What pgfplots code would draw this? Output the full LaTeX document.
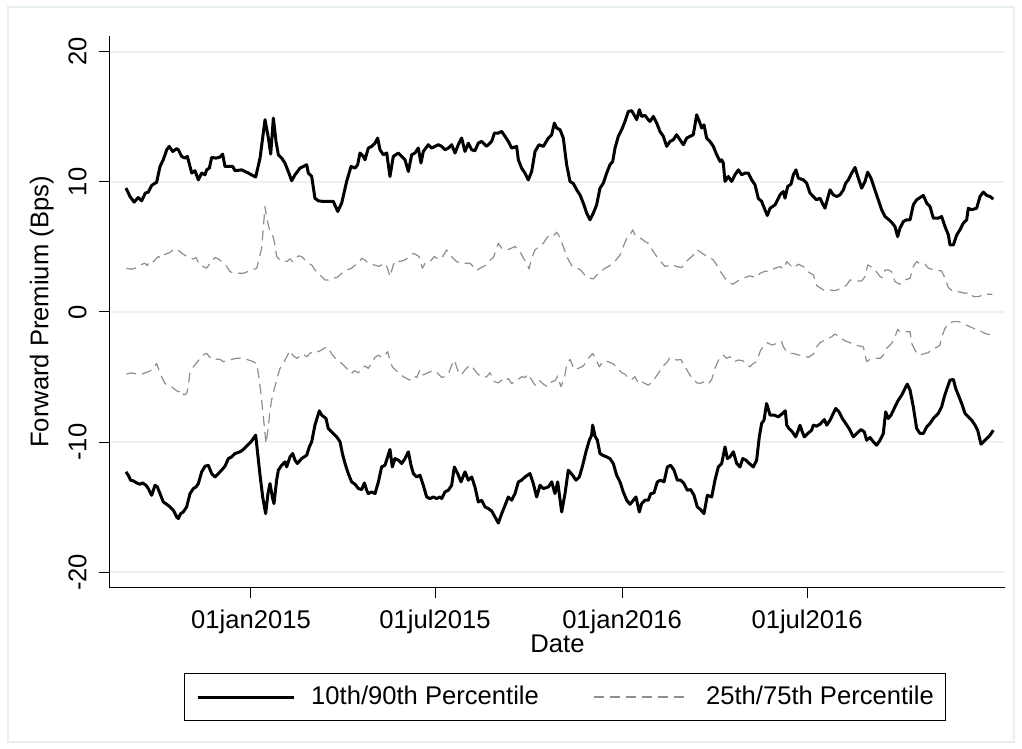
\documentclass[border=0pt]{standalone}
\usepackage{fontspec}
\setmainfont{Liberation Sans}
\usepackage{pgfplots}
\pgfplotsset{compat=1.18}
\definecolor{gridc}{HTML}{EAF2F3}
\definecolor{framec}{HTML}{E6EEF0}
\definecolor{dashc}{HTML}{8E8E8E}
\newcommand{\chartfont}{\fontsize{12.8}{15}\selectfont}
\begin{document}
\begin{tikzpicture}
\useasboundingbox (0,0) rectangle (511pt,374.5pt);
\draw[framec, line width=0.75pt] (4pt,3.5pt) rectangle (507pt,371pt);
\begin{axis}[
  at={(55pt,80.5pt)}, anchor=south west,
  scale only axis, width=447.5pt, height=276pt,
  xmin=-138.7, xmax=741.7, ymin=-21.2, ymax=21.2,
  axis x line*=bottom, axis y line*=left,
  axis line style={line width=0.5pt, black},
  xtick={0,181,365,547}, xticklabels={01jan2015,01jul2015,01jan2016,01jul2016},
  ytick={-20,-10,0,10,20}, yticklabels={-20,-10,0,10,20},
  tick align=outside, major tick length=5.25pt,
  tick style={line width=0.5pt, black},
  ymajorgrids, grid style={gridc, line width=1pt},
  ticklabel style={font=\chartfont},
  xticklabel style={yshift=-2pt},
  yticklabel style={xshift=-6.25pt, rotate=90, anchor=south, inner sep=0pt},
  xlabel={Date}, ylabel={Forward Premium (Bps)},
  label style={font=\chartfont},
  xlabel style={at={(axis description cs:0.5,-0.0851)}, anchor=north, inner sep=0pt},
  ylabel style={at={(axis description cs:-0.0626,0.5)}, anchor=south, inner sep=0pt},
  legend columns=2,
  legend cell align=left,
  legend image code/.code={\draw[#1] (0pt,0pt) -- (48pt,0pt);},
  legend style={at={(axis description cs:0.5084,-0.1975)}, anchor=center,
    draw=black, line width=0.5pt, font=\chartfont, inner xsep=6pt, inner ysep=2pt,
    nodes={inner xsep=0pt, inner ysep=4.5pt},
    /tikz/every odd column/.append style={column sep=8pt},
    /tikz/every even column/.append style={column sep=27pt}},
]
% 90th percentile
\addplot[black, line width=1.5pt, line join=round] coordinates {
(-123,9.52) (-119,8.87) (-115,8.44) (-111,8.79) (-107.5,8.54) (-104,9.13) (-101,9.21) (-97.7,9.72) (-92.8,9.97) (-89.5,11.18)
(-86.3,11.69) (-82.9,12.46) (-80.4,12.72) (-77.1,12.33) (-73.1,12.54) (-71.5,12.46) (-68.2,11.95) (-64.9,11.82) (-62.6,11.95) (-58.3,10.67)
(-55.1,10.85) (-51.8,10.15) (-48.5,10.67) (-45.2,10.54) (-43.6,10.92) (-41,11.05) (-38.7,11.87) (-34.4,11.82) (-30.5,11.9) (-27.9,12.13)
(-25.6,11.18) (-23.3,11.18) (-18,11.18) (-15.7,10.85) (-9.2,10.92) (-2.6,10.67) (4.6,10.36) (8.9,11.82) (13.8,14.77) (17.1,13.36)
(19.4,12.13) (22,14.9) (24.6,13.1) (26.9,12.08) (30.2,11.82) (33.4,11.44) (36.7,10.79) (40,10.08) (43.3,10.54) (48.2,11.05)
(51.5,11.18) (54.8,11.31) (56.4,10.67) (59.7,10.41) (62.9,8.74) (66.2,8.54) (71.1,8.49) (76,8.49) (81,8.49) (85.3,7.72)
(89.2,8.36) (94.1,10.03) (98.4,11.18) (102.3,11.05) (104.9,11.31) (107.2,12.21) (110.5,11.95) (112.1,11.69) (115.4,12.59) (118.7,12.72)
(122,12.97) (124.6,13.36) (126.9,12.46) (130.2,12.08) (133.5,12.21) (136.7,10.41) (140,11.95) (144.9,12.21) (148.2,11.95) (151.5,11.69)
(154.8,10.79) (158.1,12.08) (161.3,12.21) (164.6,12.59) (167.2,11.44) (169.5,12.33) (174.4,12.85) (177.7,12.59) (181,12.72) (184.3,12.85)
(187.6,12.72) (190.8,12.46) (194.1,12.59) (197.4,12.85) (200.7,12.21) (203.9,12.85) (207.2,13.36) (210.5,12.33) (213.8,12.97) (217.1,12.46)
(220.3,12.38) (223.6,12.97) (226.9,13.1) (231.8,12.72) (236.7,13.1) (239.4,13.74) (243.3,13.74) (246.6,13.87) (249.9,13.49) (253.1,13.1)
(256.4,12.59) (261.3,12.72) (263,11.69) (266.2,11.05) (269.5,10.67) (272.8,10.15) (276.1,10.79) (279.4,12.33) (283.3,12.85) (287.6,12.72)
(292.5,13.36) (295.8,13.62) (298.4,14.51) (300.7,14.13) (304,14.0) (307.2,13.36) (310.5,11.31) (313.8,10.02) (317.1,9.87) (320.4,9.38)
(323.6,9.0) (326.9,8.36) (330.2,7.59) (333.5,7.08) (336.7,7.59) (340,8.23) (343.3,9.51) (346.6,9.9) (349.9,10.67) (353.1,11.31)
(355.8,11.56) (358.1,12.59) (361.3,13.49) (364.6,14.0) (367.9,14.64) (371.2,15.41) (374.5,15.46) (377.7,15.02) (379.4,14.77) (382,15.54)
(384.3,15.02) (387.6,15.1) (390.8,14.77) (392.5,14.64) (395.8,15.02) (399.1,14.51) (402.3,13.87) (405.6,13.49) (408.9,12.72) (412.2,13.1)
(415.4,13.23) (418.7,13.62) (422,13.23) (425.3,12.85) (428.6,13.36) (431.8,13.49) (435.1,13.62) (438.4,15.15) (441,14.64) (443.3,14.13)
(445.6,14.38) (448.2,13.36) (451.5,13.1) (454.8,12.72) (458.1,12.08) (461.4,11.56) (463,11.69) (464.6,11.44) (466.3,10.03) (469.5,10.41)
(472.8,10.03) (476.1,10.54) (479.4,10.92) (482.7,10.54) (485.9,10.67) (489.2,10.67) (492.5,10.15) (495.8,9.77) (499,8.74) (502.3,8.49)
(505.6,7.85) (507.9,7.41) (510.6,7.97) (515.5,8.23) (520.4,9.0) (523.6,9.25) (525.3,8.74) (527.9,9.64) (531.2,9.82) (533.5,10.54)
(536.1,10.92) (538.4,10.28) (543.3,10.15) (546.6,9.9) (549.9,9.13) (553.2,8.87) (556.4,8.62) (559.7,8.74) (562,8.36) (564.6,7.97)
(567.3,8.74) (569.6,9.38) (572.8,9.0) (576.1,8.87) (579.4,9.0) (582.7,9.38) (585,9.9) (587.6,10.15) (590.9,10.67) (594.2,11.1)
(597.4,10.28) (600.7,9.51) (604,10.03) (606.6,10.74) (609.9,10.28) (613.2,9.51) (616.5,8.74) (620.4,7.85) (623.7,7.33) (627.6,7.08)
(630.9,6.82) (633.5,6.56) (636.1,5.79) (638.4,6.44) (641.7,6.95) (645,7.08) (648.3,7.08) (651.5,8.23) (654.8,8.62) (658.1,8.79)
(661.4,8.95) (664.7,8.36) (667.9,8.1) (671.2,7.21) (676.1,7.21) (679.4,7.33) (682.7,6.56) (686,5.92) (687.6,5.15) (690.9,5.15)
(694.2,5.92) (697.4,6.31) (700.7,6.82) (704,7.08) (705.6,7.97) (708.9,7.85) (713.8,7.97) (717.1,8.87) (720.4,9.21) (723.7,8.95)
(727,8.87) (730.2,8.67)
};
\addlegendentry{10th/90th Percentile}
% 75th percentile
\addplot[dashc, line width=0.6pt, dash pattern=on 5pt off 3pt, line join=round] coordinates {
(-122.6,3.36) (-117.4,3.28) (-112.4,3.41) (-109.2,3.62) (-104.3,3.74) (-102,3.56) (-99.4,3.92) (-96.7,3.82) (-91.2,4.26) (-87.9,4.13)
(-84.6,4.44) (-81.3,4.51) (-76.4,4.77) (-73.1,4.85) (-69.8,4.64) (-68.2,4.51) (-60,4.13) (-56.7,4.08) (-54.1,4.18) (-50.2,3.56)
(-46.9,3.49) (-43.6,3.36) (-40.3,3.74) (-35.4,4.18) (-32.1,4.08) (-28.9,3.87) (-23.9,3.49) (-20.7,3.1) (-15.7,2.97) (-7.5,2.97)
(-1,3.18) (5.6,3.36) (10.5,4.9) (13.8,8.1) (15.4,7.21) (18.7,6.18) (21.3,5.92) (23.6,5.15) (25.2,4.26) (28.5,4.0)
(31.8,4.0) (35.1,3.87) (38.4,4.08) (41,3.87) (46.6,4.31) (49.8,4.26) (53.1,4.0) (56.4,3.74) (59.7,3.62) (62.9,3.23)
(66.2,2.97) (69.5,2.72) (72.8,2.46) (76,2.46) (79.3,2.59) (84.3,2.64) (89.2,2.97) (94.1,3.23) (99,3.36) (101.7,3.56)
(105.6,3.74) (108.9,4.13) (112.1,4.0) (115.4,3.74) (118.7,3.67) (123.6,3.56) (125.3,3.49) (131.8,3.74) (134.4,3.36) (136.7,2.72)
(140,3.62) (143.3,4.0) (146.6,3.87) (151.5,4.0) (154.8,4.18) (159.7,4.51) (165.3,4.26) (168.5,3.36) (171.8,3.82) (176.1,3.87)
(180.3,4.26) (184.3,4.05) (187.6,4.13) (192.5,4.77) (195.8,4.38) (199,4.13) (202.3,3.87) (207.2,3.74) (215.4,3.74) (218.7,3.49)
(222,3.18) (225.3,3.36) (230.2,3.56) (233.5,3.87) (238.4,4.18) (243.3,5.28) (246.6,4.9) (251.5,4.77) (254.8,4.85) (259.7,5.03)
(264.6,4.64) (267.9,4.13) (271.2,3.74) (273.5,3.31) (276.1,4.13) (279.4,4.77) (283.3,5.03) (287.6,5.28) (290.8,5.67) (294.1,5.92)
(297.4,5.85) (300.7,6.13) (303,5.85) (307.2,5.03) (310.5,4.26) (315.5,3.56) (320.4,3.36) (324.3,3.23) (329.5,2.72) (333.5,2.59)
(336.7,2.54) (341.6,2.97) (345,3.15) (348.2,3.36) (351.5,3.49) (356.4,3.74) (360.4,4.13) (363,4.38) (366.2,5.03) (369.6,5.67)
(372.8,5.92) (375.5,6.31) (377.7,5.92) (381,5.72) (384.3,5.62) (387.6,5.41) (390.8,5.28) (395.8,4.64) (399.1,4.26) (401.7,4.0)
(407.3,3.49) (410.5,3.56) (415.4,3.62) (418.7,3.49) (423.7,3.41) (427.9,3.87) (431.8,4.13) (435.1,4.38) (438.4,4.77) (441.7,4.64)
(444.9,4.44) (449.9,4.26) (454.8,4.0) (458.1,3.62) (460.7,3.23) (463,2.97) (466.3,2.59) (469.5,2.33) (473.8,2.13) (477.8,2.33)
(482.7,2.59) (485.9,2.64) (490.2,2.77) (493.5,2.72) (497.4,2.64) (500.7,2.97) (504.6,3.1) (508.9,3.15) (515.5,3.36) (520.4,3.49)
(523.6,3.31) (526.9,3.87) (530.2,3.62) (533.5,3.36) (538.4,3.67) (543.3,3.49) (546.6,3.15) (553.2,2.85) (556.4,2.03) (564.6,1.62)
(569.6,1.69) (574.5,1.64) (582.7,1.87) (586,2.08) (589.2,2.46) (595.8,2.38) (600.7,2.38) (604,2.72) (606.6,3.62) (609.9,3.49)
(613.2,3.31) (618.8,2.72) (621,2.64) (623.7,3.23) (626.9,3.23) (630.2,3.1) (633.5,2.33) (638.4,2.13) (643.3,2.46) (648.3,2.59)
(651.5,3.49) (654.8,3.87) (659.7,3.62) (663,3.67) (666.3,3.36) (672.8,3.23) (679.4,3.15) (682.7,2.59) (686,1.87) (690.9,1.56)
(695.8,1.56) (702.4,1.44) (707.3,1.49) (710.6,1.18) (715.5,1.18) (722,1.36) (729.2,1.36)
};
\addlegendentry{25th/75th Percentile}
% 25th percentile
\addplot[forget plot, dashc, line width=0.6pt, dash pattern=on 5pt off 3pt, line join=round] coordinates {
(-122.6,-4.77) (-117.4,-4.67) (-112.4,-4.77) (-107.5,-4.77) (-104.3,-4.67) (-101,-4.59) (-97.7,-4.46) (-96.1,-4.33) (-92.8,-3.95) (-91.2,-4.33)
(-87.9,-4.97) (-84.6,-5.49) (-81.3,-5.69) (-78.1,-5.74) (-74.8,-5.95) (-71.5,-6.13) (-68.2,-6.0) (-65.9,-6.38) (-63.3,-6.26) (-61.7,-5.74)
(-60,-4.59) (-56.7,-4.21) (-54.1,-3.95) (-50.8,-3.64) (-47.5,-3.31) (-43.6,-3.18) (-40.3,-3.49) (-37.1,-3.44) (-34.4,-3.62) (-30.5,-3.64)
(-27.2,-3.82) (-23.9,-3.74) (-20.7,-3.69) (-19,-3.64) (-14.1,-3.56) (-9.2,-3.56) (-4.3,-3.64) (0.7,-3.77) (5.6,-3.95) (8.2,-5.23)
(10.5,-6.77) (12.8,-8.56) (14.8,-10.1) (17.1,-8.82) (18.7,-7.54) (20.3,-6.77) (22.6,-6.0) (25.2,-5.23) (28.5,-4.33) (31.8,-3.95)
(35.1,-3.44) (38.4,-2.97) (41,-3.31) (45,-3.56) (48.2,-3.38) (51.5,-3.23) (54.8,-3.44) (58,-3.18) (62,-2.97) (66.2,-3.05)
(70.5,-2.87) (74.4,-2.67) (77,-2.92) (80.3,-3.31) (84.3,-3.69) (87.6,-3.82) (90.8,-4.08) (95.7,-4.46) (99,-4.72) (101.7,-4.51)
(105.6,-4.67) (108.9,-4.33) (112.1,-4.15) (115.4,-4.33) (119.4,-3.82) (122,-3.49) (125.3,-3.31) (128.5,-3.49) (131.8,-3.31) (134.4,-3.05)
(136.7,-3.69) (139,-4.21) (142.3,-4.46) (146.6,-4.77) (149.9,-4.97) (153.1,-5.1) (156.4,-5.23) (159.7,-4.92) (163,-5.03) (166.2,-4.46)
(168.5,-4.85) (172.8,-4.72) (176.1,-4.59) (181,-4.51) (184.3,-4.77) (187.6,-5.03) (190.8,-4.97) (194.1,-4.77) (197.4,-4.08) (200,-3.69)
(203.3,-4.46) (206.6,-4.85) (210.5,-4.46) (215.4,-4.08) (218.7,-4.33) (222,-4.67) (225.3,-4.92) (228.5,-5.03) (231.8,-4.97) (235.1,-4.67)
(239.4,-5.36) (243.3,-5.44) (246.6,-5.23) (249.9,-5.36) (253.1,-5.1) (256.4,-5.49) (259.7,-5.36) (263,-5.18) (266.2,-4.97) (269.5,-5.03)
(272.8,-4.77) (276.1,-5.23) (279.4,-5.62) (283.3,-5.23) (287.6,-5.54) (291.8,-5.74) (295.8,-5.36) (299,-5.28) (301.7,-4.92) (304.9,-5.74)
(308.2,-5.1) (310.5,-4.08) (313.8,-3.64) (315.5,-3.95) (317.7,-4.41) (322,-4.33) (326.9,-4.15) (331.8,-3.56) (336.1,-3.18) (338.4,-3.49)
(342.6,-4.21) (345,-3.95) (347.2,-3.74) (351.5,-3.82) (356.4,-4.0) (360.4,-4.33) (364.6,-4.67) (367.9,-4.77) (371.2,-5.1) (374.5,-5.18)
(377.7,-4.97) (381,-5.49) (384.3,-5.36) (387.6,-5.49) (390.8,-5.62) (395.2,-5.36) (398.4,-4.97) (401.7,-4.59) (405.6,-4.15) (409.6,-3.82)
(412.2,-3.49) (415.4,-3.64) (419.4,-3.69) (422.7,-3.64) (427.9,-4.33) (431.8,-4.85) (435.1,-5.1) (438.4,-5.44) (441.7,-5.49) (445.6,-5.36)
(449.9,-5.54) (453.2,-5.18) (456.4,-4.33) (460.7,-3.56) (464.6,-3.31) (467.9,-3.56) (471.2,-3.44) (475.1,-3.82) (479.4,-3.69) (483.7,-3.74)
(487.6,-4.08) (490.9,-4.21) (494.1,-3.95) (497.4,-3.82) (500.7,-3.05) (504.6,-2.54) (507.9,-2.36) (512.2,-2.54) (517.7,-2.41) (522,-2.28)
(523.6,-2.67) (526.9,-3.05) (530.2,-3.18) (533.5,-3.18) (538.4,-3.31) (543.3,-3.31) (548.2,-3.49) (553.2,-3.23) (556.4,-2.67) (559.7,-2.36)
(564.6,-2.15) (567.9,-2.03) (571.2,-1.9) (574.5,-1.69) (577.7,-1.85) (581,-2.03) (584.3,-2.21) (589.2,-2.36) (594.2,-2.54) (599.1,-2.62)
(602.3,-2.67) (605.6,-3.82) (608.9,-3.64) (613.8,-3.56) (618.8,-3.56) (622,-3.31) (623.7,-2.92) (626.9,-2.67) (630.2,-2.41) (633.5,-1.9)
(636.1,-1.33) (638.4,-1.51) (643.3,-1.51) (648.3,-1.51) (649.9,-2.41) (654.8,-3.18) (658.1,-3.31) (663,-3.18) (666.3,-3.13) (669.6,-2.87)
(674.5,-2.72) (677.8,-2.54) (679.4,-1.9) (682.7,-1.26) (686,-0.87) (690.9,-0.74) (695.8,-0.74) (700.7,-0.87) (705.6,-1.08) (708.9,-1.18)
(713.8,-1.38) (718.8,-1.51) (722,-1.64) (725.3,-1.72) (729.2,-1.77)
};
% 10th percentile
\addplot[forget plot, black, line width=1.5pt, line join=round] coordinates {
(-123,-12.28) (-120.7,-12.54) (-118.4,-12.92) (-115.8,-12.97) (-112.4,-13.13) (-109.2,-13.23) (-106.6,-13.13) (-103.3,-13.31) (-101,-13.56) (-97.7,-14.08)
(-94.4,-13.31) (-92.1,-13.44) (-89.5,-13.95) (-86.3,-14.59) (-82.9,-14.77) (-79.7,-14.97) (-76.4,-15.23) (-73.1,-15.74) (-71.5,-15.87) (-69.2,-15.49)
(-66.6,-15.36) (-63.3,-14.97) (-60,-13.95) (-56.7,-13.56) (-54.1,-13.44) (-51.8,-13.18) (-48.5,-12.28) (-45.2,-11.85) (-42,-11.77) (-38.7,-12.41)
(-35.4,-12.67) (-32.1,-12.41) (-28.9,-12.15) (-25.6,-11.85) (-22.3,-11.26) (-19,-11.13) (-15.7,-10.87) (-10.8,-10.74) (-7.5,-10.56) (-4.3,-10.31)
(0.7,-9.9) (4.6,-9.46) (8.9,-12.54) (11.5,-14.21) (14.4,-15.49) (16.7,-13.95) (18.7,-13.18) (21,-14.21) (22.6,-14.72) (25.2,-12.92)
(26.9,-12.15) (30.2,-11.77) (33.4,-11.51) (35.1,-11.9) (38.4,-11.13) (41,-10.87) (43.3,-11.38) (45.6,-11.64) (49.8,-11.26) (54.8,-11.0)
(57.4,-10.36) (59.7,-9.97) (62.9,-8.69) (67.2,-7.59) (69.5,-7.92) (73.8,-8.18) (76,-8.95) (79.3,-9.21) (84.3,-9.59) (87.6,-9.97)
(89.9,-10.87) (92.5,-11.64) (95.7,-12.41) (99,-13.05) (102.3,-13.23) (105.6,-13.56) (108.9,-13.64) (111.5,-13.13) (113.8,-13.69) (115.4,-13.95)
(118.7,-13.82) (122,-13.95) (125.3,-13.05) (128.5,-11.9) (131.8,-11.77) (134.4,-11.13) (136.7,-10.56) (139,-11.9) (141.6,-11.26) (144.9,-11.38)
(148.2,-11.64) (151.5,-11.26) (154.8,-10.74) (157.4,-11.77) (159.7,-12.41) (163,-12.67) (166.2,-12.54) (169.5,-13.31) (172.8,-14.21) (176.1,-14.33)
(179.4,-14.21) (182.6,-14.33) (185.9,-14.21) (187.6,-14.33) (190.8,-13.82) (194.1,-13.69) (197.4,-13.31) (200,-11.9) (203.3,-12.41) (206.6,-13.05)
(210.5,-12.28) (213.8,-12.92) (217.1,-12.67) (220.3,-13.44) (223.6,-14.59) (226.9,-14.46) (230.2,-14.97) (233.5,-15.1) (236.7,-15.28) (240,-15.74)
(243.3,-16.21) (246.6,-15.49) (249.9,-14.85) (253.1,-14.21) (256.4,-14.46) (259.7,-13.95) (263,-13.05) (266.2,-12.92) (269.5,-12.67) (274.4,-12.41)
(277.7,-13.18) (281,-14.21) (284.3,-13.31) (287.6,-13.56) (292.5,-13.44) (295.8,-13.05) (299,-13.95) (301.7,-13.05) (305.6,-15.36) (308.9,-13.95)
(312.1,-12.15) (316.4,-12.54) (319.7,-12.92) (323,-12.67) (326.3,-11.77) (329.5,-10.74) (332.8,-9.85) (335.1,-9.46) (336.1,-8.69) (338.4,-9.54)
(340.7,-9.85) (343.3,-10.87) (345.9,-11.0) (349.9,-11.13) (353.1,-11.26) (356.4,-11.64) (359.7,-12.54) (363,-13.05) (366.2,-13.82) (369.6,-14.46)
(372.8,-14.77) (376.1,-14.46) (378.7,-14.21) (382,-15.36) (384.3,-14.72) (387.6,-14.46) (390.8,-14.46) (393.2,-13.95) (396.4,-13.9) (399.7,-13.05)
(403,-12.92) (406.3,-13.05) (409.6,-11.9) (412.8,-11.77) (416.1,-12.15) (419.4,-12.92) (422.7,-12.92) (425.9,-13.18) (429.2,-13.69) (432.5,-13.64)
(435.8,-14.08) (439,-14.97) (442.3,-15.18) (445.6,-15.49) (448.9,-14.08) (453.2,-14.21) (456.4,-12.92) (459.7,-11.9) (463,-11.64) (466.3,-10.36)
(468.6,-11.26) (471.2,-11.13) (474.5,-10.74) (477.8,-11.64) (481,-11.9) (483.7,-11.26) (486.9,-11.38) (490.2,-11.64) (494.1,-11.9) (497.4,-11.38)
(500,-9.59) (502.3,-8.56) (504.6,-8.31) (507.2,-7.03) (510.6,-7.92) (514.5,-7.92) (518.7,-8.05) (523,-7.79) (525.6,-7.59) (527,-8.69)
(529.2,-8.95) (532.5,-9.21) (535.8,-9.59) (538.4,-9.08) (540,-8.69) (542.3,-9.21) (544.3,-9.59) (547.6,-9.33) (551.5,-9.08) (553.2,-8.69)
(556.4,-8.77) (559.7,-8.62) (564,-8.26) (566.3,-8.69) (569.6,-8.31) (572.8,-7.79) (575.2,-7.41) (578.4,-7.67) (581.7,-8.18) (585,-8.56)
(588.3,-8.95) (592.5,-9.59) (595.8,-9.33) (600.1,-9.03) (603.3,-9.21) (605.6,-9.85) (608.9,-9.64) (612.2,-9.97) (615.5,-10.23) (618.8,-9.85)
(622,-9.33) (624.3,-7.67) (626.9,-8.18) (629.6,-7.92) (633.5,-7.28) (636.8,-6.77) (640.1,-6.38) (643.3,-5.87) (645.6,-5.54) (648.3,-6.0)
(651.5,-7.28) (654.8,-8.95) (658.1,-9.33) (661.4,-9.33) (664.7,-8.82) (667.9,-8.56) (671.2,-8.18) (676.1,-7.79) (679.4,-7.28) (682,-6.51)
(685.3,-5.74) (687.6,-5.23) (690.9,-5.18) (693.2,-5.87) (695.8,-6.38) (699.1,-7.03) (702.4,-7.79) (705.6,-8.05) (708.9,-8.31) (712.2,-8.69)
(714.8,-9.08) (718.1,-10.15) (720.4,-9.97) (723.7,-9.72) (727,-9.46) (730.2,-9.08)
};
\end{axis}
\end{tikzpicture}
\end{document}
